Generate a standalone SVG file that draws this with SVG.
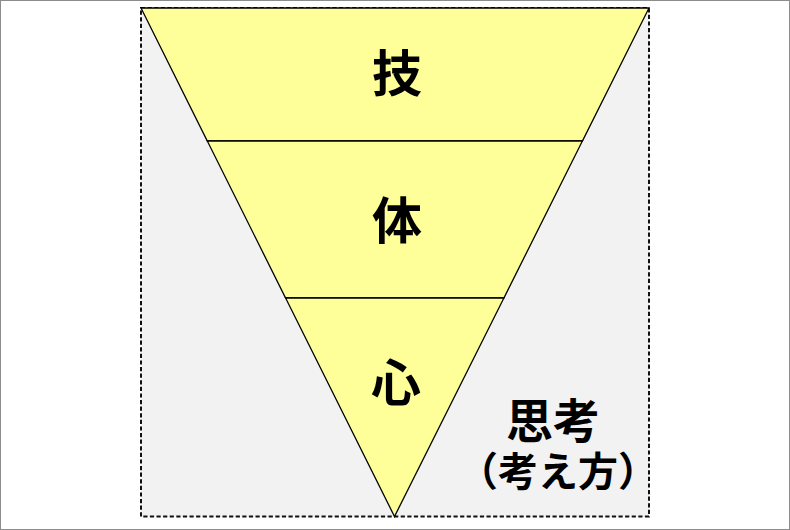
<svg xmlns="http://www.w3.org/2000/svg" width="790" height="530" viewBox="0 0 790 530">
  <style>
    .layer { fill: #ffff99; stroke: #000; stroke-width: 1.3; stroke-linejoin: miter; }
    .lbl { font-family: "Noto Sans CJK JP", "Noto Sans CJK SC", sans-serif; font-weight: bold; fill: #000; text-anchor: middle; }
  </style>
  <rect x="0" y="0" width="790" height="530" fill="#ffffff"/>
  <rect x="0.5" y="0.5" width="789" height="529" fill="none" stroke="#8c8c8c" stroke-width="1"/>
  <g id="area-thinking">
    <rect x="141" y="8" width="508" height="508.5" fill="#f2f2f2" stroke="#111" stroke-width="2" stroke-dasharray="4.2 2.4"/>
  </g>
  <g id="layer-gi">
    <polygon class="layer" points="141,8 649,8 582.4,141 207.3,141"/>
    <text class="lbl" x="397" y="92" font-size="50">技</text>
  </g>
  <g id="layer-tai">
    <polygon class="layer" points="207.3,141 582.4,141 503.9,298 285.6,298"/>
    <text class="lbl" x="397" y="239" font-size="50">体</text>
  </g>
  <g id="layer-shin">
    <polygon class="layer" points="285.6,298 503.9,298 394.5,516.5"/>
    <text class="lbl" x="396" y="401" font-size="50">心</text>
  </g>
  <g id="label-thinking">
    <text class="lbl"><tspan x="553" y="438" font-size="47">思考</tspan><tspan x="558" y="486" font-size="40">（考え方）</tspan></text>
  </g>
  <g id="connectors"></g>
</svg>
